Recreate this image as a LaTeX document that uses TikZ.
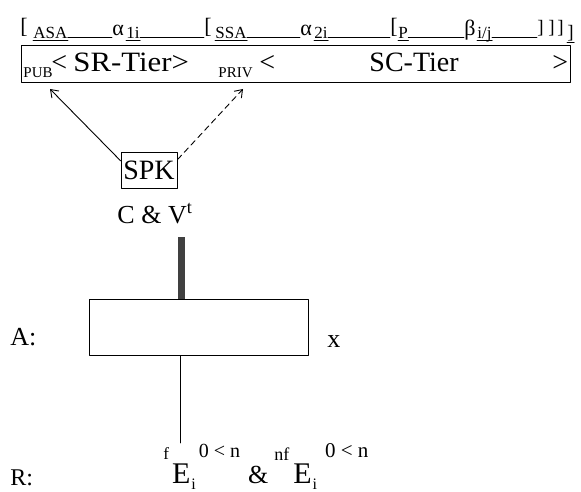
\documentclass[tikz,border=0pt]{standalone}
\usepackage{fontspec}
\usepackage{graphicx}
\setmainfont{Liberation Serif}
\usetikzlibrary{arrows.meta}
\newcommand\fsz[1]{\fontsize{#1}{#1}\selectfont}

\begin{document}
\begin{tikzpicture}[x=1pt,y=1pt,line join=round,line cap=round,>={Straight Barb[length=7pt,width=10pt]},line width=0.9pt,
	txt/.style={inner sep=0pt,anchor=base west},
	brk/.style={txt,font=\fsz{22}},
	grk/.style={txt,font=\fsz{22}},
	sub/.style={txt,font=\fsz{17}},
	tsub/.style={txt,font=\fsz{15}},
	tier/.style={txt,font=\fsz{28}},
	lbl/.style={txt,font=\fsz{26}}]
	\useasboundingbox (0,0) rectangle (581,-492);
	
	% bracket row
	\def\ygr{-36} \def\ybr{-34} \def\ysub{-38.5} \def\yline{-37}
	\node[brk] (lbasa) at (20,\ybr) {[};
	\node[sub] (asa) at (33,\ysub) {ASA};
	\node[grk] (aone) at (112,\ygr) {α};
	\node[sub] (aonei) at (126,\ysub) {1i};
	\node[brk] (lbssa) at (204,\ybr) {[};
	\node[sub] (ssa) at (215,\ysub) {SSA};
	\node[grk] (atwo) at (300,\ygr) {α};
	\node[sub] (atwoi) at (314,\ysub) {2i};
	\node[brk] (lbp) at (390,\ybr) {[};
	\node[sub] (p) at (398,\ysub) {P};
	\node[grk] (beta) at (464,\ygr) {β};
	\node[sub] (bij) at (477,\ysub) {i/j};
	\node[brk,font=\fsz{19}] (rba) at (537,\ybr) {]};
	\node[brk,font=\fsz{19}] (rbb) at (548,\ybr) {]};
	\node[brk,font=\fsz{19}] (rbc) at (557,\ybr) {]};
	\node[brk,font=\fsz{19}] (rbd) at (567,-39) {]};
	\foreach \a/\b in {asa/aone,aonei/lbssa,ssa/atwo,atwoi/lbp,p/beta,bij/rba}
	\draw (\a.base east |- 0,\yline) -- (\b.base west |- 0,\yline);
	\foreach \n in {asa,aonei,ssa,atwoi,p,bij}
	\draw ([yshift=-2pt]\n.base west) -- ([yshift=-2pt]\n.base east);
	\draw ([yshift=-3pt]rbd.base west) -- ([yshift=-3pt]rbd.base east);
	
	% tiers
	\node[draw,minimum width=549pt,minimum height=37pt,inner sep=0pt] (tiers) at (295.5,-63.5) {};
	\node[tsub] (pub) at (23,-78) {PUB};
	\node[tier] (ltpub) at (51,-72) {<};
	\node[tier] (sr) at (73,-72) {\scalebox{1.1}[1]{SR-Tier>}};
	\node[tsub] (priv) at (218,-78) {PRIV};
	\node[tier] (ltpriv) at (259,-72) {<};
	\node[tier] (sc) at (369,-72) {SC-Tier};
	\node[tier] (gt) at (552,-72) {>};
	
	% SPK
	\node[draw,minimum width=56pt,minimum height=36pt,inner sep=0pt,font=\fsz{28}] (spk) at (149,-170) {SPK};
	\node[lbl] (cv) at (117,-223) {C \& V\textsuperscript{t}};
	\coordinate (pubtip) at (50,-89);
	\coordinate (privtip) at (243,-89);
	\draw[->] (spk.162) -- (pubtip);
	\draw[->,dash pattern=on 6pt off 4pt] (spk.20) -- (privtip);
	
	% A and R
	\node[draw,minimum width=219pt,minimum height=56pt] (abox) at (198.5,-327) {};
	\coordinate (bartop) at (181.5,-237);
	\draw[line width=7pt,line cap=butt,draw=black!75] (bartop) -- (bartop |- abox.north);
	\coordinate (rtop) at (180,-443);
	\draw (rtop |- abox.south) -- (rtop);
	\node[lbl] (alab) at (10,-345) {A:};
	\node[lbl] (xlab) at (327,-347) {x};
	\node[lbl,font=\fsz{24}] (rlab) at (10,-485) {R:};
	\node[txt,font=\fsz{30}] (res) at (163,-483) {\raisebox{24pt}{\fsz{17}f}\hspace{3pt}E\hspace{1pt}\raisebox{-6pt}{\fsz{16}i}\hspace{3pt}\raisebox{26pt}{\fsz{20}0 < n}\hspace{8pt}{\fsz{26}\&}\hspace{6pt}\raisebox{23pt}{\fsz{18}nf}\hspace{4pt}E\hspace{1pt}\raisebox{-6pt}{\fsz{16}i}\hspace{8pt}\raisebox{26pt}{\fsz{21}0 < n}};
\end{tikzpicture}
\end{document}
